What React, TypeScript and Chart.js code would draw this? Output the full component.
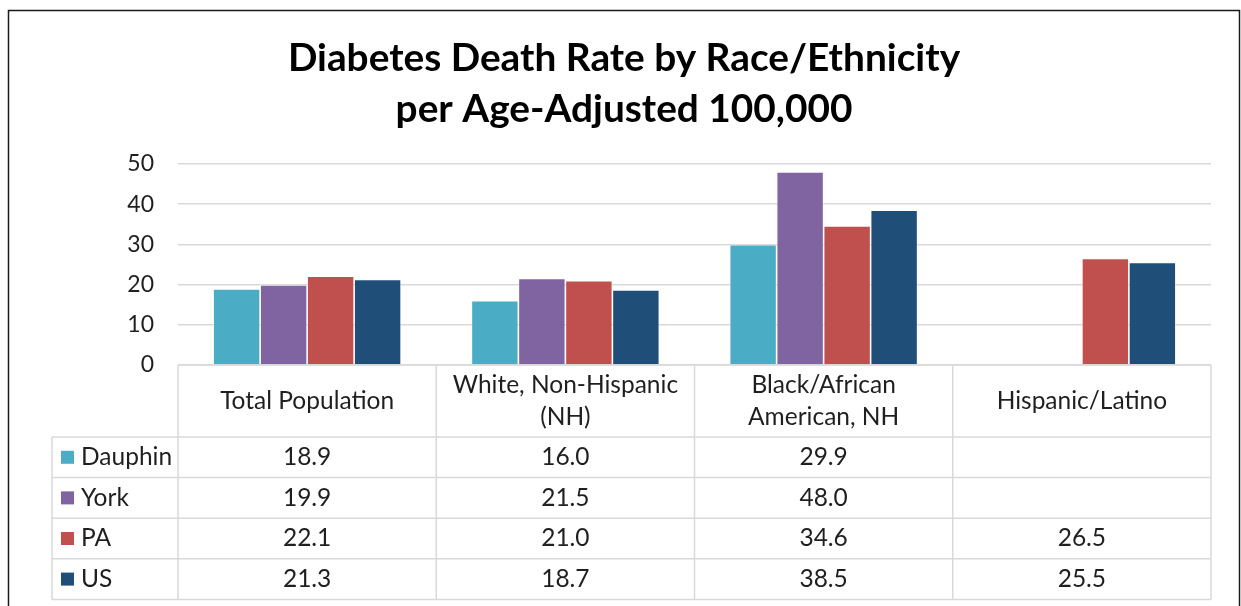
import React, { useEffect, useRef } from "react";
import { Chart, registerables } from "chart.js";

Chart.register(...registerables);

// Chart content
const titleLines = ["Diabetes Death Rate by Race/Ethnicity", "per Age-Adjusted 100,000"];
const categories: string[][] = [
  ["Total Population"],
  ["White, Non-Hispanic", "(NH)"],
  ["Black/African", "American, NH"],
  ["Hispanic/Latino"],
];
const seriesNames = ["Dauphin", "York", "PA", "US"];
const dauphin = [18.9, 16.0, 29.9, null];
const york = [19.9, 21.5, 48.0, null];
const pa = [22.1, 21.0, 34.6, 26.5];
const us = [21.3, 18.7, 38.5, 25.5];
const seriesColors = ["#4BACC6", "#8064A2", "#C0504D", "#1F4E79"];
const yMin = 0;
const yMax = 50;
const yStep = 10;

const FONT = 'Lato, "Open Sans", sans-serif';
const TEXT = "#1f1f1f";
const LINE = "#d9d9d9";

// Geometry of the data table drawn under the plot
const HEADER_H = 72;
const ROW_H = 40.6;
const LEGEND_LEFT = 52;

const tablePlugin = {
  id: "dataTable",
  beforeDraw(chart: any) {
    const { ctx, width, height } = chart;
    ctx.save();
    ctx.fillStyle = "#ffffff";
    ctx.fillRect(0, 0, width, height);
    ctx.restore();
  },
  afterDraw(chart: any) {
    const { ctx, chartArea } = chart;
    const { left, right, bottom } = chartArea;
    const n = categories.length;
    const colW = (right - left) / n;
    const datasets = chart.data.datasets;

    ctx.save();
    // Outer frame
    ctx.strokeStyle = "#1a1a1a";
    ctx.lineWidth = 1.5;
    ctx.strokeRect(8.5, 10.5, 1231, 700);

    // Title
    ctx.fillStyle = "#000000";
    ctx.font = `bold 38.8px ${FONT}`;
    ctx.textAlign = "center";
    ctx.textBaseline = "middle";
    const cx = 624;
    titleLines.forEach((t, i) => ctx.fillText(t, cx, 58 + i * 51));

    // Table lines
    ctx.strokeStyle = LINE;
    ctx.lineWidth = 1.5;
    const headerBottom = bottom + HEADER_H;
    const tableBottom = headerBottom + ROW_H * seriesNames.length;
    ctx.beginPath();
    ctx.moveTo(left, bottom);
    ctx.lineTo(right, bottom);
    for (let r = 0; r <= seriesNames.length; r++) {
      const y = headerBottom + r * ROW_H;
      ctx.moveTo(LEGEND_LEFT, y);
      ctx.lineTo(right, y);
    }
    for (let c = 0; c <= n; c++) {
      const x = left + c * colW;
      ctx.moveTo(x, bottom);
      ctx.lineTo(x, tableBottom);
    }
    ctx.moveTo(LEGEND_LEFT, headerBottom);
    ctx.lineTo(LEGEND_LEFT, tableBottom);
    ctx.stroke();

    // Header labels
    ctx.fillStyle = TEXT;
    ctx.font = `24.5px ${FONT}`;
    ctx.textAlign = "center";
    ctx.textBaseline = "middle";
    const lh = 32;
    categories.forEach((lines, c) => {
      const x = left + (c + 0.5) * colW;
      const midY = bottom + HEADER_H / 2;
      const y0 = midY - ((lines.length - 1) * lh) / 2;
      lines.forEach((l, i) => ctx.fillText(l, x, y0 + i * lh));
    });

    // Rows: legend key + values
    datasets.forEach((ds: any, r: number) => {
      const yMid = headerBottom + (r + 0.5) * ROW_H;
      ctx.fillStyle = ds.backgroundColor;
      ctx.fillRect(61, yMid - 6.5, 13, 13);
      ctx.fillStyle = TEXT;
      ctx.textAlign = "left";
      ctx.fillText(ds.label, 81, yMid);
      ctx.textAlign = "center";
      ds.data.forEach((v: number | null, c: number) => {
        if (v === null || v === undefined) return;
        ctx.fillText(v.toFixed(1), left + (c + 0.5) * colW, yMid);
      });
    });
    ctx.restore();
  },
};

export default function App() {
  const ref = useRef<HTMLCanvasElement | null>(null);

  useEffect(() => {
    if (!ref.current) return;
    const values = [dauphin, york, pa, us];
    const chart = new Chart(ref.current, {
      type: "bar",
      data: {
        labels: categories.map((c) => c.join(" ")),
        datasets: seriesNames.map((name, i) => ({
          label: name,
          data: values[i],
          backgroundColor: seriesColors[i],
          borderColor: "rgba(255,255,255,0.6)",
          borderWidth: 0.8,
          barPercentage: 1,
          categoryPercentage: 0.728,
        })),
      },
      options: {
        responsive: false,
        animation: false,
        layout: { padding: { left: 0, right: 30, top: 164, bottom: 241 } },
        plugins: {
          legend: { display: false },
          title: { display: false },
          tooltip: { enabled: false },
        },
        scales: {
          x: { display: false },
          y: {
            min: yMin,
            max: yMax,
            ticks: {
              stepSize: yStep,
              padding: 24,
              color: TEXT,
              font: { family: FONT, size: 23 },
            },
            grid: { color: LINE, lineWidth: 1.5, drawTicks: false },
            border: { display: false },
            afterFit: (scale: any) => {
              scale.width = 178;
            },
          },
        },
      },
      plugins: [tablePlugin],
    });
    return () => chart.destroy();
  }, []);

  return (
    <div style={{ position: "fixed", left: 0, top: 0, width: 1241, height: 606, background: "#fff" }}>
      <canvas ref={ref} width={1241} height={606} style={{ display: "block" }} />
    </div>
  );
}
